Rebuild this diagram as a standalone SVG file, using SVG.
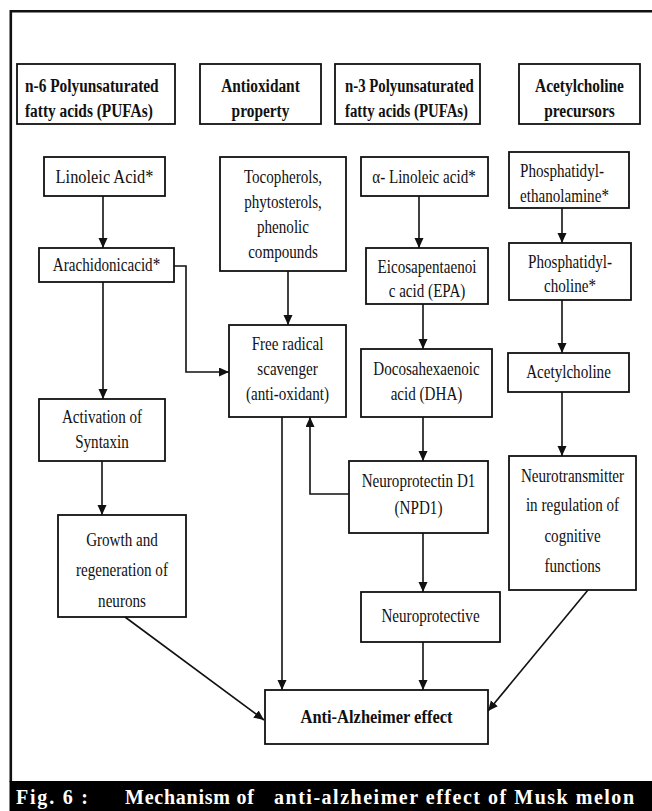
<svg xmlns="http://www.w3.org/2000/svg" width="652" height="811" viewBox="0 0 652 811">
<style>
.bx{fill:#fff;stroke:#111;stroke-width:1.8}
.t{font-family:"Liberation Serif","Times New Roman",serif;font-size:18px;fill:#111;text-anchor:middle}
.tl{font-family:"Liberation Serif","Times New Roman",serif;font-size:18px;fill:#111}
.h{font-family:"Liberation Serif","Times New Roman",serif;font-size:19px;font-weight:bold;fill:#111}
.hm{font-family:"Liberation Serif","Times New Roman",serif;font-size:19px;font-weight:bold;fill:#111;text-anchor:middle}
.c{font-family:"Liberation Serif","Times New Roman",serif;font-size:20px;font-weight:bold;fill:#fff}
.ar{fill:none;stroke:#111;stroke-width:1.6;marker-end:url(#ah)}
</style>
<defs>
<marker id="ah" markerWidth="11" markerHeight="10" refX="10" refY="4.5" orient="auto" markerUnits="userSpaceOnUse">
<path d="M0,0 L10,4.5 L0,9 z" fill="#111"/>
</marker>
</defs>
<rect x="0" y="0" width="652" height="811" fill="#fff"/>
<path d="M652,11.2 H10.8 V782" fill="none" stroke="#111" stroke-width="2.6"/>
<g id="caption">
<rect x="9.5" y="781" width="643" height="30" fill="#000"/>
<text class="c" x="16" y="804" textLength="72" lengthAdjust="spacing">Fig. 6 :</text>
<text class="c" x="125" y="804" textLength="129" lengthAdjust="spacing">Mechanism of</text>
<text class="c" x="274" y="804" textLength="360" lengthAdjust="spacing">anti-alzheimer effect of Musk melon</text>
</g>

<g id="h1"><rect class="bx" x="17" y="64" width="158" height="60"/>
<g transform="translate(25 0) scale(0.81 1)"><text class="h" x="0" y="92">n-6 Polyunsaturated</text><text class="h" x="0" y="117">fatty acids (PUFAs)</text></g></g>
<g id="h2"><rect class="bx" x="200" y="64" width="121" height="60"/>
<g transform="translate(260.5 0) scale(0.81 1)"><text class="hm" x="0" y="92">Antioxidant</text><text class="hm" x="0" y="117">property</text></g></g>
<g id="h3"><rect class="bx" x="335" y="64" width="145" height="60"/>
<g transform="translate(345 0) scale(0.78 1)"><text class="h" x="0" y="92">n-3 Polyunsaturated</text><text class="h" x="0" y="117">fatty acids (PUFAs)</text></g></g>
<g id="h4"><rect class="bx" x="519" y="64" width="121" height="60"/>
<g transform="translate(579.5 0) scale(0.81 1)"><text class="hm" x="0" y="92">Acetylcholine</text><text class="hm" x="0" y="117">precursors</text></g></g>

<g id="linoleic"><rect class="bx" x="44" y="157" width="121" height="39"/>
<g transform="translate(104.5 0) scale(0.84 1)"><text class="t" x="0" y="183" style="font-size:19.5px">Linoleic Acid*</text></g></g>
<g id="tocopherols"><rect class="bx" x="220" y="157" width="126" height="114"/>
<g transform="translate(283 0) scale(0.84 1)"><text class="t" x="0" y="183">Tocopherols,</text><text class="t" x="0" y="208">phytosterols,</text><text class="t" x="0" y="233">phenolic</text><text class="t" x="0" y="258">compounds</text></g></g>
<g id="alinoleic"><rect class="bx" x="361" y="157" width="127" height="39"/>
<g transform="translate(424 0) scale(0.84 1)"><text class="t" x="0" y="183">α- Linoleic acid*</text></g></g>
<g id="pe"><rect class="bx" x="509" y="152" width="120" height="56"/>
<g transform="translate(520 0) scale(0.84 1)"><text class="tl" x="0" y="177">Phosphatidyl-</text><text class="tl" x="0" y="202">ethanolamine*</text></g></g>

<g id="arachidonic"><rect class="bx" x="39" y="248" width="135" height="34"/>
<g transform="translate(106.5 0) scale(0.84 1)"><text class="t" x="0" y="271">Arachidonicacid*</text></g></g>
<g id="epa"><rect class="bx" x="366" y="248" width="122" height="56"/>
<g transform="translate(427 0) scale(0.84 1)"><text class="t" x="0" y="273">Eicosapentaenoi</text><text class="t" x="0" y="297">c acid (EPA)</text></g></g>
<g id="pc"><rect class="bx" x="509" y="243" width="122" height="57"/>
<g transform="translate(570 0) scale(0.84 1)"><text class="t" x="0" y="268">Phosphatidyl-</text><text class="t" x="0" y="292">choline*</text></g></g>

<g id="freeradical"><rect class="bx" x="229" y="325" width="117" height="92"/>
<g transform="translate(287.5 0) scale(0.84 1)"><text class="t" x="0" y="350">Free radical</text><text class="t" x="0" y="375">scavenger</text><text class="t" x="0" y="400">(anti-oxidant)</text></g></g>
<g id="dha"><rect class="bx" x="361" y="349" width="131" height="68"/>
<g transform="translate(426.5 0) scale(0.84 1)"><text class="t" x="0" y="375">Docosahexaenoic</text><text class="t" x="0" y="400">acid (DHA)</text></g></g>
<g id="acetylcholine"><rect class="bx" x="508" y="353" width="121" height="39"/>
<g transform="translate(568.5 0) scale(0.84 1)"><text class="t" x="0" y="378">Acetylcholine</text></g></g>

<g id="syntaxin"><rect class="bx" x="39" y="399" width="126" height="62"/>
<g transform="translate(102 0) scale(0.84 1)"><text class="t" x="0" y="423">Activation of</text><text class="t" x="0" y="448">Syntaxin</text></g></g>
<g id="npd1"><rect class="bx" x="349" y="461" width="139" height="72"/>
<g transform="translate(418.5 0) scale(0.84 1)"><text class="t" x="0" y="487">Neuroprotectin D1</text><text class="t" x="0" y="514">(NPD1)</text></g></g>
<g id="neurotransmitter"><rect class="bx" x="509" y="456" width="127" height="134"/>
<g transform="translate(572.5 0) scale(0.84 1)"><text class="t" x="0" y="482">Neurotransmitter</text><text class="t" x="0" y="511">in regulation of</text><text class="t" x="0" y="542">cognitive</text><text class="t" x="0" y="572">functions</text></g></g>

<g id="growth"><rect class="bx" x="58" y="515" width="128" height="102"/>
<g transform="translate(122 0) scale(0.84 1)"><text class="t" x="0" y="546">Growth and</text><text class="t" x="0" y="576">regeneration of</text><text class="t" x="0" y="607">neurons</text></g></g>
<g id="neuroprotective"><rect class="bx" x="361" y="592" width="139" height="50"/>
<g transform="translate(430.5 0) scale(0.84 1)"><text class="t" x="0" y="622">Neuroprotective</text></g></g>

<g id="antialzheimer"><rect class="bx" x="265" y="690" width="223" height="54"/>
<text class="h" x="300.5" y="723" textLength="152" lengthAdjust="spacingAndGlyphs">Anti-Alzheimer effect</text></g>

<g id="connectors">
<path class="ar" d="M103,196 V248"/>
<path class="ar" d="M103,282 V399"/>
<path class="ar" d="M174,266 H186 V372 H229"/>
<path class="ar" d="M288,271 V325"/>
<path class="ar" d="M419,196 V248"/>
<path class="ar" d="M423,304 V349"/>
<path class="ar" d="M423,417 V461"/>
<path class="ar" d="M349,494 H310 V417"/>
<path class="ar" d="M423,533 V592"/>
<path class="ar" d="M562,208 V243"/>
<path class="ar" d="M562,300 V353"/>
<path class="ar" d="M562,392 V456"/>
<path class="ar" d="M102,461 V515"/>
<path class="ar" d="M125,617 L264,720"/>
<path class="ar" d="M282,417 V690"/>
<path class="ar" d="M423,642 V690"/>
<path class="ar" d="M588,590 L488,711"/>
</g>
</svg>
